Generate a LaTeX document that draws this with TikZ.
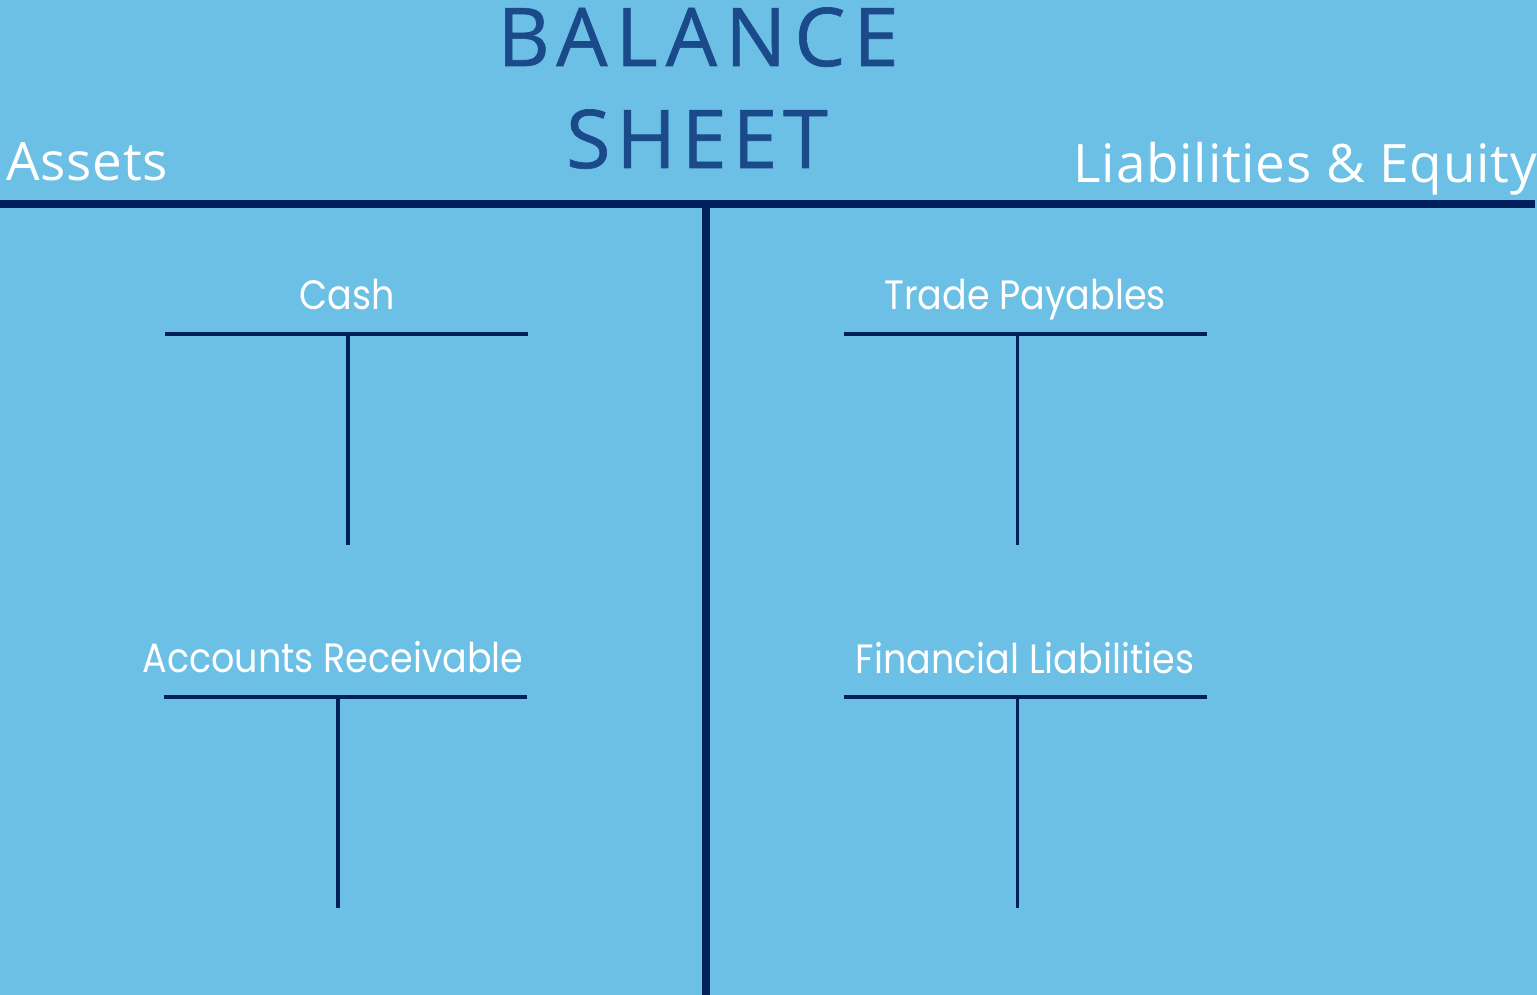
\documentclass[tikz,border=0pt]{standalone}
\usepackage{fontspec}
\setmainfont{Poppins}
\newfontfamily\titlefont[LetterSpace=10, FakeBold=0.8]{Open Sans}
\newfontfamily\sidefont[LetterSpace=1.5]{Open Sans}
\usetikzlibrary{positioning,calc}
\definecolor{sheetbg}{HTML}{6CBFE5}
\definecolor{navyline}{HTML}{00205B}
\definecolor{titleblue}{HTML}{1A4A8A}
\newcommand{\acctname}[1]{\scalebox{0.89}[1]{#1}}
\tikzset{
    mainline/.style={navyline, line width=8pt},
    tbar/.style={navyline, line width=4pt},
    tstem/.style={navyline, line width=3.5pt},
}

\begin{document}
\begin{tikzpicture}[x=1pt, y=-1pt,
    title/.style={text=titleblue, inner sep=0pt, anchor=base, font=\titlefont\fontsize{81}{81}\selectfont},
    side/.style={text=white, inner sep=0pt, font=\sidefont\fontsize{53}{53}\selectfont},
    account/.style={text=white, inner sep=0pt, anchor=base, font=\fontsize{41}{41}\selectfont}]
  \fill[sheetbg] (0,0) rectangle (1537,995);
  \useasboundingbox (0,0) rectangle (1537,995);

  \node [title] (balancetitle) at (698,66) {BALANCE};
  \node [title] (sheettitle) at (697,168) {\addfontfeature{LetterSpace=7}SHEET};
  \node [side, anchor=base west] (assetstitle) at (6,181) {Assets};
  \node [side, anchor=base east] (liabilitiestitle) at (1537,183) {Liabilities \& Equity};

  % GRAN T
  \coordinate (mainleft) at (0,204);
  \coordinate (mainright) at (1535,204);
  \coordinate (maintop) at (705.5,204);
  \coordinate (mainbottom) at (705.5,995);
  \draw[mainline] (mainleft) -- (mainright);
  \draw[mainline] (maintop) -- (mainbottom);

  % CUENTAS
  \node [account] (cashtitle) at (347,309) {\acctname{Cash}};
  \coordinate (cashleft) at (165,334);
  \coordinate (cashright) at (528,334);
  \draw[tbar] (cashleft) -- (cashright);
  \draw[tstem] (348,334) -- (348,545);

  \node [account] (receivabletitle) at (333,672) {\acctname{Accounts Receivable}};
  \coordinate (receivableleft) at (164,697);
  \coordinate (receivableright) at (527,697);
  \draw[tbar] (receivableleft) -- (receivableright);
  \draw[tstem] (338,697) -- (338,908);

  \node [account] (payablestitle) at (1025,309) {\acctname{Trade Payables}};
  \coordinate (payablesleft) at (844,334);
  \coordinate (payablesright) at (1207,334);
  \draw[tbar] (payablesleft) -- (payablesright);
  \draw[tstem] (1017.5,334) -- (1017.5,545);

  \node [account] (financialtitle) at (1025,673) {\acctname{Financial Liabilities}};
  \coordinate (financialleft) at (844,697);
  \coordinate (financialright) at (1207,697);
  \draw[tbar] (financialleft) -- (financialright);
  \draw[tstem] (1017.5,697) -- (1017.5,908);
\end{tikzpicture}
\end{document}
